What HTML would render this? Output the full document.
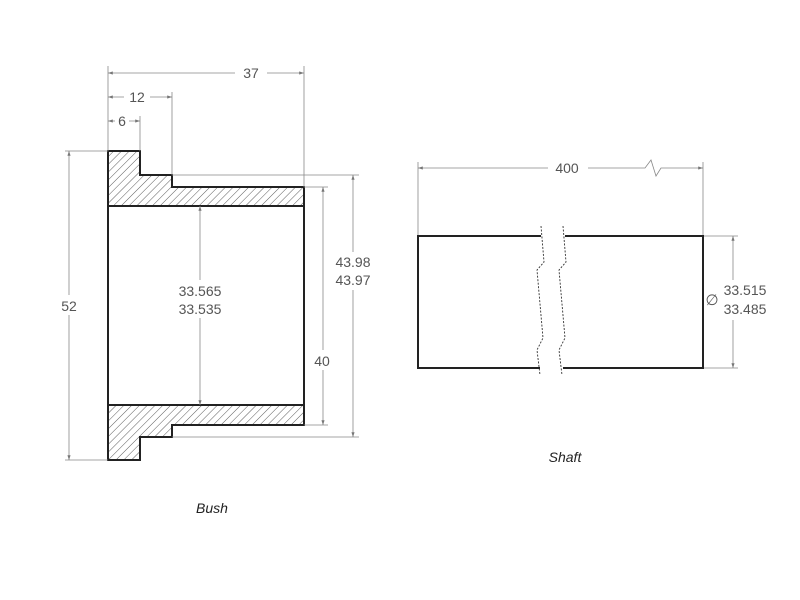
<!DOCTYPE html>
<html><head><style>body{margin:0;background:#fff}svg{display:block}</style></head><body>
<svg width="800" height="600" viewBox="0 0 800 600" xmlns="http://www.w3.org/2000/svg" font-family="Liberation Sans, sans-serif">
<defs>
<pattern id="h" width="5.5" height="5.5" patternUnits="userSpaceOnUse" patternTransform="rotate(45)">
<line x1="0" y1="0" x2="0" y2="5.5" stroke="#333" stroke-width="0.8"/>
</pattern>
<marker id="a" markerWidth="6" markerHeight="4" refX="6" refY="2" orient="auto-start-reverse"><path d="M0,0 L6,2 L0,4z" fill="#777"/></marker>
</defs>
<path d="M108,151 H140 V175 H172 V187 H304 V206 H108Z" fill="url(#h)" stroke="none"/>
<path d="M108,405 H304 V425 H172 V437 H140 V460 H108Z" fill="url(#h)" stroke="none"/>
<path d="M108,151 H140 V175 H172 V187 H304 V425 H172 V437 H140 V460 H108Z" fill="none" stroke="#222" stroke-width="2"/>
<line x1="108" y1="206" x2="304" y2="206" stroke="#222" stroke-width="2"/>
<line x1="108" y1="405" x2="304" y2="405" stroke="#222" stroke-width="2"/>
<g stroke="#888" stroke-width="0.8" fill="none">
<line x1="108" y1="66" x2="108" y2="151"/><line x1="304" y1="66" x2="304" y2="187"/>
<line x1="172" y1="92" x2="172" y2="175"/><line x1="140" y1="116" x2="140" y2="151"/>
<line x1="108" y1="73" x2="304" y2="73" marker-start="url(#a)" marker-end="url(#a)"/>
<line x1="108" y1="97" x2="172" y2="97" marker-start="url(#a)" marker-end="url(#a)"/>
<line x1="108" y1="121" x2="140" y2="121" marker-start="url(#a)" marker-end="url(#a)"/>
<line x1="65" y1="151" x2="108" y2="151"/><line x1="65" y1="460" x2="108" y2="460"/>
<line x1="69" y1="151" x2="69" y2="460" marker-start="url(#a)" marker-end="url(#a)"/>
<line x1="172" y1="175" x2="359" y2="175"/><line x1="172" y1="437" x2="359" y2="437"/>
<line x1="353" y1="175" x2="353" y2="437" marker-start="url(#a)" marker-end="url(#a)"/>
<line x1="304" y1="187" x2="328" y2="187"/><line x1="304" y1="425" x2="328" y2="425"/>
<line x1="323" y1="187" x2="323" y2="425" marker-start="url(#a)" marker-end="url(#a)"/>
<line x1="200" y1="206" x2="200" y2="405" marker-start="url(#a)" marker-end="url(#a)"/>
<line x1="418" y1="162" x2="418" y2="236"/><line x1="703" y1="162" x2="703" y2="236"/>
<polyline points="418,168 645,168 651,160 656,176 661,168 703,168" marker-start="url(#a)" marker-end="url(#a)"/>
<line x1="703" y1="236" x2="738" y2="236"/><line x1="703" y1="368" x2="738" y2="368"/>
<line x1="733" y1="236" x2="733" y2="368" marker-start="url(#a)" marker-end="url(#a)"/>
</g>
<g fill="#fff" stroke="none">
<rect x="158" y="280" width="84" height="38"/><rect x="331" y="252" width="46" height="38"/>
<rect x="310" y="350" width="26" height="20"/><rect x="548" y="158" width="40" height="20"/>
<rect x="235" y="63" width="32" height="20"/><rect x="124" y="87" width="26" height="20"/>
<rect x="115" y="111" width="14" height="20"/><rect x="57" y="295" width="24" height="20"/>
<rect x="706" y="280" width="54" height="40"/>
</g>
<g fill="#555" font-size="14" text-anchor="middle">
<text x="251" y="78">37</text><text x="137" y="102">12</text><text x="122" y="126">6</text>
<text x="69" y="311">52</text>
<text x="200" y="296">33.565</text><text x="200" y="314">33.535</text>
<text x="353" y="267">43.98</text><text x="353" y="285">43.97</text>
<text x="322" y="366">40</text><text x="567" y="173">400</text>
<text x="745" y="295">33.515</text><text x="745" y="314">33.485</text>
<text x="712" y="305" font-size="15">∅</text>
</g>
<g stroke="#222" stroke-width="2" fill="none">
<polyline points="541,236 418,236 418,368 540,368"/>
<polyline points="565,236 703,236 703,368 563,368"/>
</g>
<g stroke="#333" stroke-width="0.9" fill="none" stroke-dasharray="2,1.5">
<polyline points="541,226 544,262 537,270 543,338 537,350 540,375"/>
<polyline points="563,226 566,262 559,270 565,338 559,350 562,375"/>
</g>
<g font-style="italic" font-size="14" fill="#222" text-anchor="middle">
<text x="565" y="462">Shaft</text><text x="212" y="513">Bush</text>
</g>
</svg>
</body></html>
